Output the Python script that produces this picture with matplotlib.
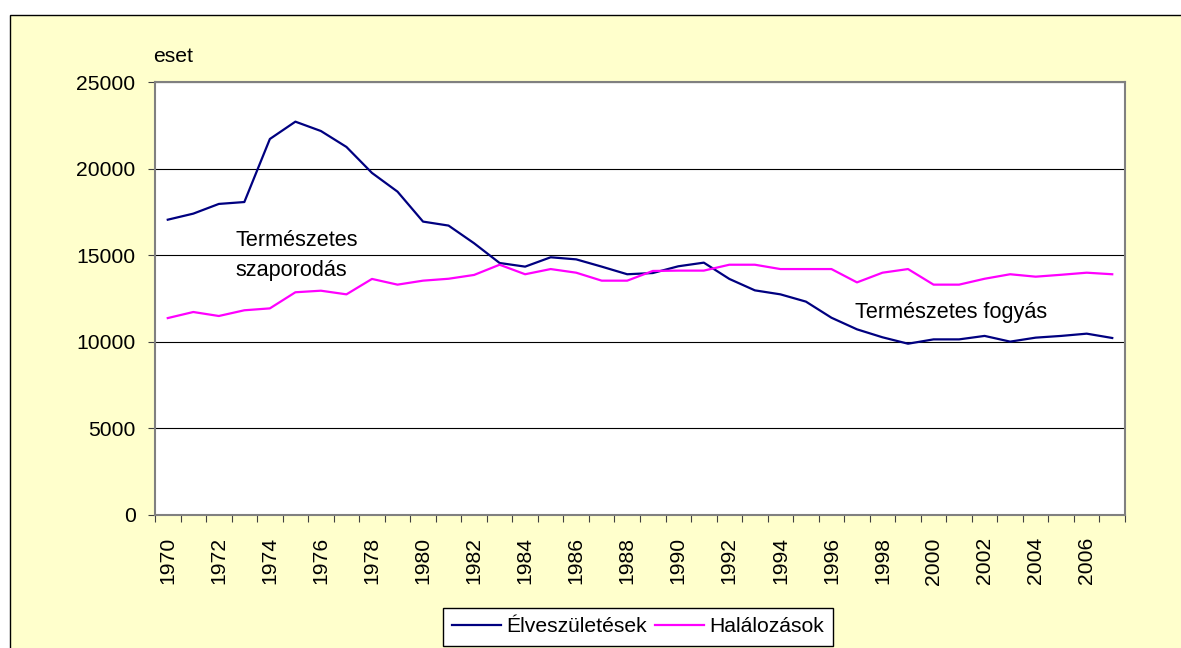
import matplotlib.pyplot as plt
from matplotlib.patches import Rectangle
import numpy as np

plt.rcParams['font.family'] = ['Liberation Sans', 'DejaVu Sans']

years = list(range(1970, 2008))
births = [17050, 17400, 17960, 18070, 21710, 22710, 22170, 21250, 19750, 18670,
          16940, 16710, 15690, 14550, 14340, 14880, 14760, 14340, 13900, 13970,
          14360, 14570, 13630, 12970, 12740, 12320, 11390, 10720, 10260, 9890,
          10140, 10140, 10340, 10010, 10240, 10340, 10470, 10220]
deaths = [11370, 11720, 11490, 11820, 11930, 12860, 12950, 12740, 13630, 13300,
          13530, 13640, 13860, 14450, 13900, 14200, 13990, 13530, 13530, 14090,
          14110, 14110, 14450, 14450, 14200, 14200, 14200, 13430, 13990, 14200,
          13300, 13300, 13640, 13900, 13760, 13870, 13990, 13900]
series_names = ['Élveszületések', 'Halálozások']

fig = plt.figure(figsize=(11.81, 6.48), dpi=100, facecolor='white')
# yellow chart area with black border (runs off right/bottom edge)
fig.patches.append(Rectangle((10/1181, -0.2), 1.2, 1.2 - 15/648,
                             transform=fig.transFigure, facecolor='#FFFFCC',
                             edgecolor='black', linewidth=1, zorder=-10))

ax = fig.add_axes([155/1181, (648-515)/648, 970/1181, 433/648])
ax.set_facecolor('white')

x = np.arange(len(years))
ax.plot(x, births, color='#000080', lw=1.6, label=series_names[0], zorder=3)
ax.plot(x, deaths, color='#FF00FF', lw=1.6, label=series_names[1], zorder=3)

ax.set_xlim(-0.5, len(years) - 0.5)
ax.set_ylim(0, 25000)
ax.set_yticks(range(0, 25001, 5000))
ax.yaxis.grid(True, color='black', lw=0.8)
ax.set_axisbelow(True)

# ticks at category boundaries, labels every other year
ax.set_xticks(np.arange(-0.5, len(years), 1.0))
ax.set_xticklabels([])
ax.set_xticks(x[::2], minor=True)
ax.set_xticklabels([str(y) for y in years[::2]], minor=True, rotation=90)
ax.tick_params(axis='x', which='major', direction='out', length=5, color='#404040')
ax.tick_params(axis='x', which='minor', length=0, pad=16, labelsize=15.2)
ax.tick_params(axis='y', direction='out', length=5, color='#404040', pad=9, labelsize=15.2)

for s in ax.spines.values():
    s.set_color('#808080')
    s.set_linewidth(1.5)

ax.text(2.67, 15820, 'Természetes', fontsize=15.6, va='center', ha='left')
ax.text(2.67, 14090, 'szaporodás', fontsize=15.6, va='center', ha='left')
ax.text(26.92, 11720, 'Természetes fogyás', fontsize=15.6, va='center', ha='left')

fig.text(153/1181, 1 - 57/648, 'eset', fontsize=15.2, va='center', ha='left')

leg = fig.legend(loc='upper center', bbox_to_anchor=(638/1181, 1 - 608/648),
                 ncol=2, fontsize=15.2, frameon=True, fancybox=False,
                 edgecolor='black', framealpha=1, borderaxespad=0,
                 handlelength=2.3, handletextpad=0.25, columnspacing=0.4,
                 borderpad=0.45)
leg.get_frame().set_linewidth(1)

plt.savefig('out.png', dpi=100)
